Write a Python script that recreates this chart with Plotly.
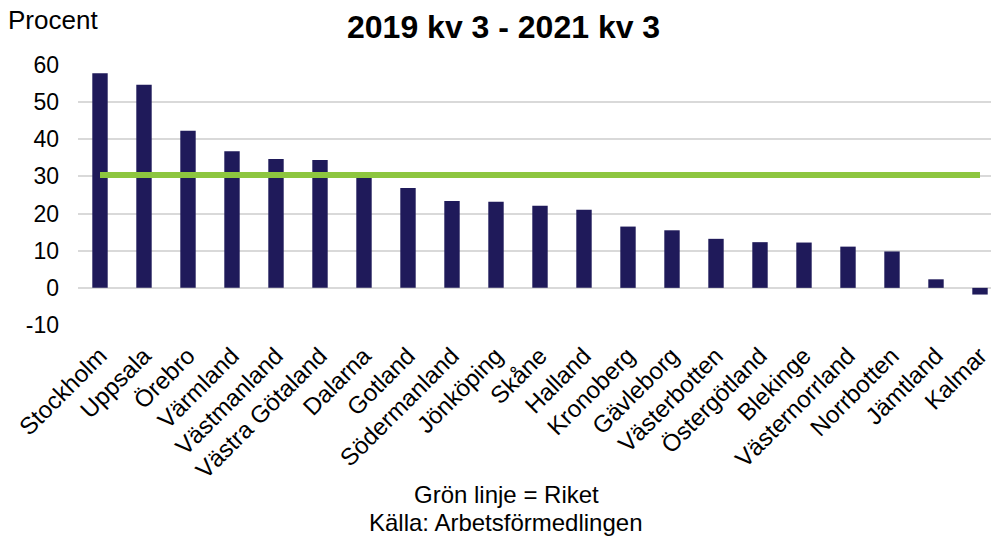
import plotly.graph_objects as go

regions = ["Stockholm", "Uppsala", "Örebro", "Värmland", "Västmanland", "Västra Götaland",
           "Dalarna", "Gotland", "Södermanland", "Jönköping", "Skåne", "Halland",
           "Kronoberg", "Gävleborg", "Västerbotten", "Östergötland", "Blekinge",
           "Västernorrland", "Norrbotten", "Jämtland", "Kalmar"]
values = [57.8, 54.7, 42.3, 36.8, 34.7, 34.4, 30.0, 26.9, 23.4, 23.2, 22.1, 21.0,
          16.5, 15.5, 13.2, 12.3, 12.2, 11.1, 9.8, 2.3, -1.8]
riket = [30.4] * len(regions)
yticks = [-10, 0, 10, 20, 30, 40, 50, 60]
yticklabels = ["-10", "0", "10", "20", "30", "40", "50", "60"]

W, H = 991, 540
L, R, T, B = 78, 0, 65, 215
ph = H - T - B

def py(px):
    return (H - B - px) / ph

def pxx(px):
    return (px - L) / (W - L - R)

fig = go.Figure()
fig.add_trace(go.Bar(x=regions, y=values, marker=dict(color="#1f1a5a", line=dict(width=0)),
                     width=0.35, showlegend=False))
fig.add_trace(go.Scatter(x=regions, y=riket, mode="lines",
                         line=dict(color="#8dc63f", width=6), showlegend=False))

fig.update_layout(
    width=W, height=H,
    margin=dict(l=L, r=R, t=T, b=B),
    plot_bgcolor="white", paper_bgcolor="white",
    font=dict(family="Liberation Sans, Arial, sans-serif", size=22, color="black"),
    xaxis=dict(range=[-0.5, 20.25], tickangle=-45, showgrid=False, showline=False,
               ticks="", ticklabelstandoff=11, tickfont=dict(size=24)),
    yaxis=dict(range=[-10, 60], tickvals=yticks, ticktext=yticklabels, showgrid=True,
               gridcolor="#d9d9d9", gridwidth=1.5, zeroline=True, zerolinecolor="#d9d9d9",
               zerolinewidth=1.5, showline=False, ticks="", ticklabelstandoff=18,
               tickfont=dict(size=23)),
    annotations=[
        dict(text="<b>2019 kv 3 - 2021 kv 3</b>", x=pxx(503), y=py(27), xref="paper", yref="paper",
             xanchor="center", yanchor="middle", showarrow=False, font=dict(size=32)),
        dict(text="Procent", x=pxx(6), y=py(20), xref="paper", yref="paper",
             xanchor="left", yanchor="middle", showarrow=False, font=dict(size=26)),
        dict(text="Grön linje = Riket", x=pxx(506), y=py(494), xref="paper", yref="paper",
             xanchor="center", yanchor="middle", showarrow=False, font=dict(size=24)),
        dict(text="Källa: Arbetsförmedlingen", x=pxx(506), y=py(522), xref="paper", yref="paper",
             xanchor="center", yanchor="middle", showarrow=False, font=dict(size=24)),
    ],
)

fig.write_html("out.html", config={"displayModeBar": False},
               post_script="document.body.style.margin='0';document.body.style.overflow='hidden';")
